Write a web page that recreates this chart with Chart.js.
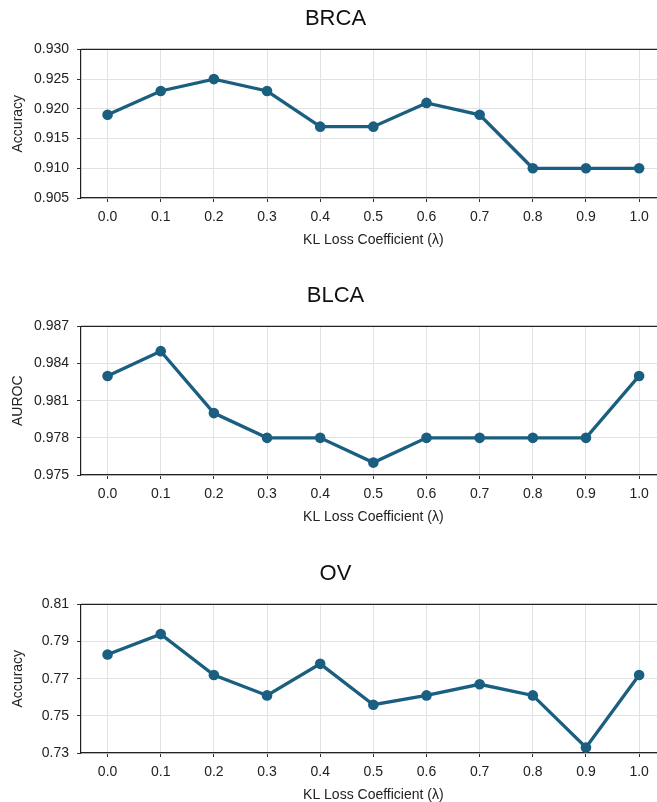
<!DOCTYPE html>
<html>
<head>
<meta charset="utf-8">
<script src="https://cdn.jsdelivr.net/npm/chart.js@4.4.1/dist/chart.umd.min.js"></script>
<style>
  html, body { margin: 0; padding: 0; overflow: hidden; background: #fff; }
  .panel { position: absolute; left: 0; width: 671px; height: 247px; }
</style>
</head>
<body>
<div class="panel" style="top:0px"><canvas id="brcaChart"></canvas></div>
<div class="panel" style="top:277px"><canvas id="blcaChart"></canvas></div>
<div class="panel" style="top:555px"><canvas id="ovChart"></canvas></div>
<script>
// значения коэффициента KL
const lambdaLabels = ['0.0', '0.1', '0.2', '0.3', '0.4', '0.5', '0.6', '0.7', '0.8', '0.9', '1.0'];

const brcaAccuracy = [0.919, 0.923, 0.925, 0.923, 0.917, 0.917, 0.921, 0.919, 0.910, 0.910, 0.910];
const blcaAuroc = [0.983, 0.985, 0.980, 0.978, 0.978, 0.976, 0.978, 0.978, 0.978, 0.978, 0.983];
const ovAccuracy = [0.783, 0.794, 0.772, 0.761, 0.778, 0.756, 0.761, 0.767, 0.761, 0.733, 0.772];

// границы осей Y: [min, max, step, знаков после запятой]
const brcaTicks = [0.905, 0.930, 0.005, 3];
const blcaTicks = [0.975, 0.987, 0.003, 3];
const ovTicks = [0.73, 0.81, 0.02, 2];

const lineColor = '#1a5f80';
const fontFamily = '"Liberation Sans", Arial, sans-serif';

// верхняя рамка графика
const topBorder = {
  id: 'topBorder',
  afterDraw(chart) {
    const {ctx, chartArea: {left, right, top}} = chart;
    ctx.save();
    ctx.strokeStyle = '#222';
    ctx.lineWidth = 1.2;
    ctx.beginPath();
    ctx.moveTo(left, top);
    ctx.lineTo(right, top);
    ctx.stroke();
    ctx.restore();
  }
};

function makeChart(id, title, yTitle, values, yTicks) {
  const [yMin, yMax, yStep, digits] = yTicks;
  return new Chart(document.getElementById(id).getContext('2d'), {
    type: 'line',
    data: {
      labels: lambdaLabels,
      datasets: [{
        data: values,
        borderColor: lineColor,
        backgroundColor: lineColor,
        borderWidth: 3.3,
        pointRadius: 5.3,
        pointBorderWidth: 0,
        tension: 0
      }]
    },
    options: {
      responsive: true,
      maintainAspectRatio: false,
      animation: false,
      layout: { padding: 0 },
      plugins: {
        legend: { display: false },
        tooltip: { enabled: false },
        title: {
          display: true,
          text: title,
          color: '#111',
          font: { family: fontFamily, size: 22, weight: 'normal' },
          padding: { top: 6, bottom: 17 }
        }
      },
      scales: {
        x: {
          type: 'category',
          offset: true,
          afterFit(s) { s.height = 49; },
          grid: { color: '#e2e2e2', tickColor: '#333', tickLength: 4 },
          border: { color: '#222', width: 1.2 },
          ticks: { color: '#222', padding: 7, font: { family: fontFamily, size: 14 } },
          title: {
            display: true,
            text: 'KL Loss Coefficient (λ)',
            color: '#222',
            font: { family: fontFamily, size: 14, lineHeight: 1 },
            padding: { top: 0, bottom: 0 }
          }
        },
        y: {
          min: yMin,
          max: yMax,
          afterFit(s) { s.width = 81; },
          grid: { color: '#e2e2e2', tickColor: '#333', tickLength: 4 },
          border: { color: '#222', width: 1.2 },
          ticks: {
            stepSize: yStep,
            padding: 8,
            color: '#222',
            font: { family: fontFamily, size: 14 },
            callback: v => Number(v).toFixed(digits)
          },
          title: {
            display: true,
            text: yTitle,
            color: '#222',
            font: { family: fontFamily, size: 14 },
            padding: { top: 10, bottom: 0 }
          }
        }
      }
    },
    plugins: [topBorder]
  });
}

makeChart('brcaChart', 'BRCA', 'Accuracy', brcaAccuracy, brcaTicks);
makeChart('blcaChart', 'BLCA', 'AUROC', blcaAuroc, blcaTicks);
makeChart('ovChart', 'OV', 'Accuracy', ovAccuracy, ovTicks);
</script>
</body>
</html>
